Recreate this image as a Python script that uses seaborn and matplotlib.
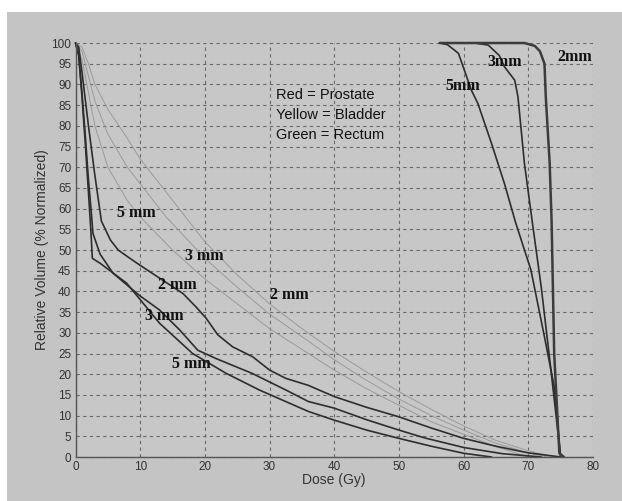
import matplotlib
matplotlib.use("Agg")
import matplotlib.pyplot as plt
from matplotlib.patches import Rectangle
import seaborn as sns
import pandas as pd

# Dose-volume histogram values (dose in Gy, volume in %)

# Rectum (dark curves, lower left)
rectum_a_dose = [0, 0.5, 1, 2, 3, 4, 5.4, 6.6, 8.4, 9.9, 13, 16.6, 18.6, 20.2, 22, 24.3, 27.4, 30,
                 32.5, 36, 40, 45, 50, 55, 60, 65, 70, 75]
rectum_a_vol = [100, 99, 93, 80, 68, 57, 52.4, 50, 48, 46.4, 43.2, 39.5, 36.3, 33.5, 29.5, 26.6, 24.2, 21,
                19, 17.3, 14.6, 12, 9.7, 7, 4.5, 2.6, 1, 0]
rectum_b_dose = [0, 0.5, 1, 1.5, 2, 2.5, 2.7, 3.8, 5.8, 9.9, 13, 16.1, 18.9, 21.7, 27.3, 32.5, 36,
                 40, 45, 50, 54, 60, 66, 72]
rectum_b_vol = [100, 97, 88, 78, 67, 58, 54, 49, 44.4, 39, 35.5, 30.7, 25.8, 23.8, 20.2, 16.2, 13.4,
                11.8, 9, 6.5, 4.6, 2.3, 0.8, 0]
rectum_c_dose = [0, 0.5, 1, 1.5, 2, 2.4, 2.6, 3.8, 7.9, 13, 18.1, 23.3, 28.4, 36, 40, 45, 50, 55,
                 60, 64.3]
rectum_c_vol = [100, 97, 87, 76, 64, 54, 48, 46.8, 42, 32.3, 25, 20.2, 16.2, 11, 8.9, 6.5, 4.5, 2.6,
                0.9, 0]

# Bladder (light curves)
bladder_2_dose = [0, 1, 2, 3, 5, 8, 10, 15, 20, 25, 30, 35, 40, 45, 50, 55, 60, 65, 70, 73, 75]
bladder_2_vol = [100, 99, 95, 90, 84, 77, 72, 62, 52, 44, 37, 31, 25.5, 20.5, 15.8, 11.5, 7.5, 4, 1.5, 0.3, 0]
bladder_3_dose = [0, 1, 2, 3, 5, 8, 10, 14, 20, 25, 30, 36, 40, 45, 50, 55, 60, 65, 70, 73]
bladder_3_vol = [100, 98, 92, 86, 78, 70, 66, 58, 48, 41, 34.5, 28, 23.5, 18.5, 14, 10, 6.5, 3.3, 1, 0]
bladder_5_dose = [0, 1, 2, 3, 5, 8, 10, 15, 20, 25, 30, 35, 40, 45, 50, 55, 60, 65, 70]
bladder_5_vol = [100, 96, 88, 80, 70, 62, 58, 50, 43, 37, 31, 26, 21, 16.5, 12.5, 8.5, 5.5, 2.5, 0]

# Prostate (right hand curves)
prostate_5_dose = [56.3, 57.5, 59.2, 61.2, 62.2, 64.3, 66.3, 68.0, 70.4, 72.5, 74, 75]
prostate_5_vol = [100, 99.6, 97.5, 88.6, 85.4, 75.8, 66.1, 56.8, 45.2, 29, 17, 0]
prostate_3_dose = [56.3, 61.7, 63.8, 65.5, 66.3, 67.9, 68.4, 69.4, 70.7, 72, 73.5, 75]
prostate_3_vol = [100, 100, 99.5, 97, 94.3, 91, 87, 70.9, 55.8, 41, 21, 0]
prostate_2_dose = [56.3, 69.4, 71.0, 71.8, 72.5, 72.7, 73.3, 73.6, 74, 74.8, 75.5]
prostate_2_vol = [100, 100, 99.3, 98, 95, 87, 71, 57, 25, 0.9, 0]

# curve annotations: (dose, volume, text)
curve_labels = [
    (9.4, 58.9, "5 mm"), (19.9, 48.6, "3 mm"), (15.8, 41.5, "2 mm"), (33.0, 39.1, "2 mm"),
    (13.8, 34.1, "3 mm"), (17.9, 22.5, "5 mm"),
    (59.8, 89.6, "5mm"), (66.4, 95.3, "3mm"), (77.2, 96.5, "2mm"),
]
key_lines = ["Red = Prostate", "Yellow = Bladder", "Green = Rectum"]

BG = "#c4c4c4"
sns.set_style("ticks")
plt.rcParams["font.family"] = ["Liberation Sans", "DejaVu Sans"]

fig = plt.figure(figsize=(6.22, 5.01), dpi=100)
fig.patch.set_facecolor("white")
fig.patches.append(Rectangle((7 / 622, 0), 1, 1 - 12 / 501, transform=fig.transFigure,
                             facecolor=BG, edgecolor="none", zorder=-10))
ax = fig.add_axes([75.5 / 622, 44 / 501, (593 - 75.5) / 622, (457 - 43) / 501])
ax.set_facecolor("#c7c7c7")

light = dict(color="#9a9a9a", linewidth=0.7)
for d, v in [(bladder_2_dose, bladder_2_vol), (bladder_3_dose, bladder_3_vol), (bladder_5_dose, bladder_5_vol)]:
    sns.lineplot(x=d, y=v, ax=ax, sort=False, estimator=None, **light)

dark = dict(color="#2e2e2e", linewidth=1.2)
for d, v in [(rectum_a_dose, rectum_a_vol), (rectum_b_dose, rectum_b_vol), (rectum_c_dose, rectum_c_vol),
             (prostate_5_dose, prostate_5_vol), (prostate_3_dose, prostate_3_vol)]:
    sns.lineplot(x=d, y=v, ax=ax, sort=False, estimator=None, clip_on=False, **dark)
sns.lineplot(x=prostate_2_dose, y=prostate_2_vol, ax=ax, sort=False, estimator=None,
             color="#3c3c3c", linewidth=1.8, clip_on=False)

for x, y, t in curve_labels:
    ax.text(x, y, t, family="Liberation Serif", fontweight="bold", fontsize=11.5,
            ha="center", va="center", color="#111111")

for i, t in enumerate(key_lines):
    ax.text(31, 87.4 - i * 4.8, t, fontsize=10.5, ha="left", va="center", color="#111111")

ax.set_xlim(0, 80)
ax.set_ylim(0, 100)
ax.set_xticks(range(0, 81, 10))
ax.set_yticks(range(0, 101, 5))
ax.grid(True, linestyle=(0, (3, 3)), color="#6a6a6a", linewidth=0.8)
ax.tick_params(labelsize=8.5, colors="#333333", length=0, pad=3)
for s in ["top", "right"]:
    ax.spines[s].set_visible(False)
for s in ["left", "bottom"]:
    ax.spines[s].set_color("#555555")
    ax.spines[s].set_linewidth(1.0)
ax.set_xlabel("Dose (Gy)", fontsize=10, color="#333333", labelpad=0)
ax.set_ylabel("Relative Volume (% Normalized)", fontsize=10, color="#333333", labelpad=2)

fig.savefig("out.png", dpi=100, facecolor=fig.get_facecolor())
